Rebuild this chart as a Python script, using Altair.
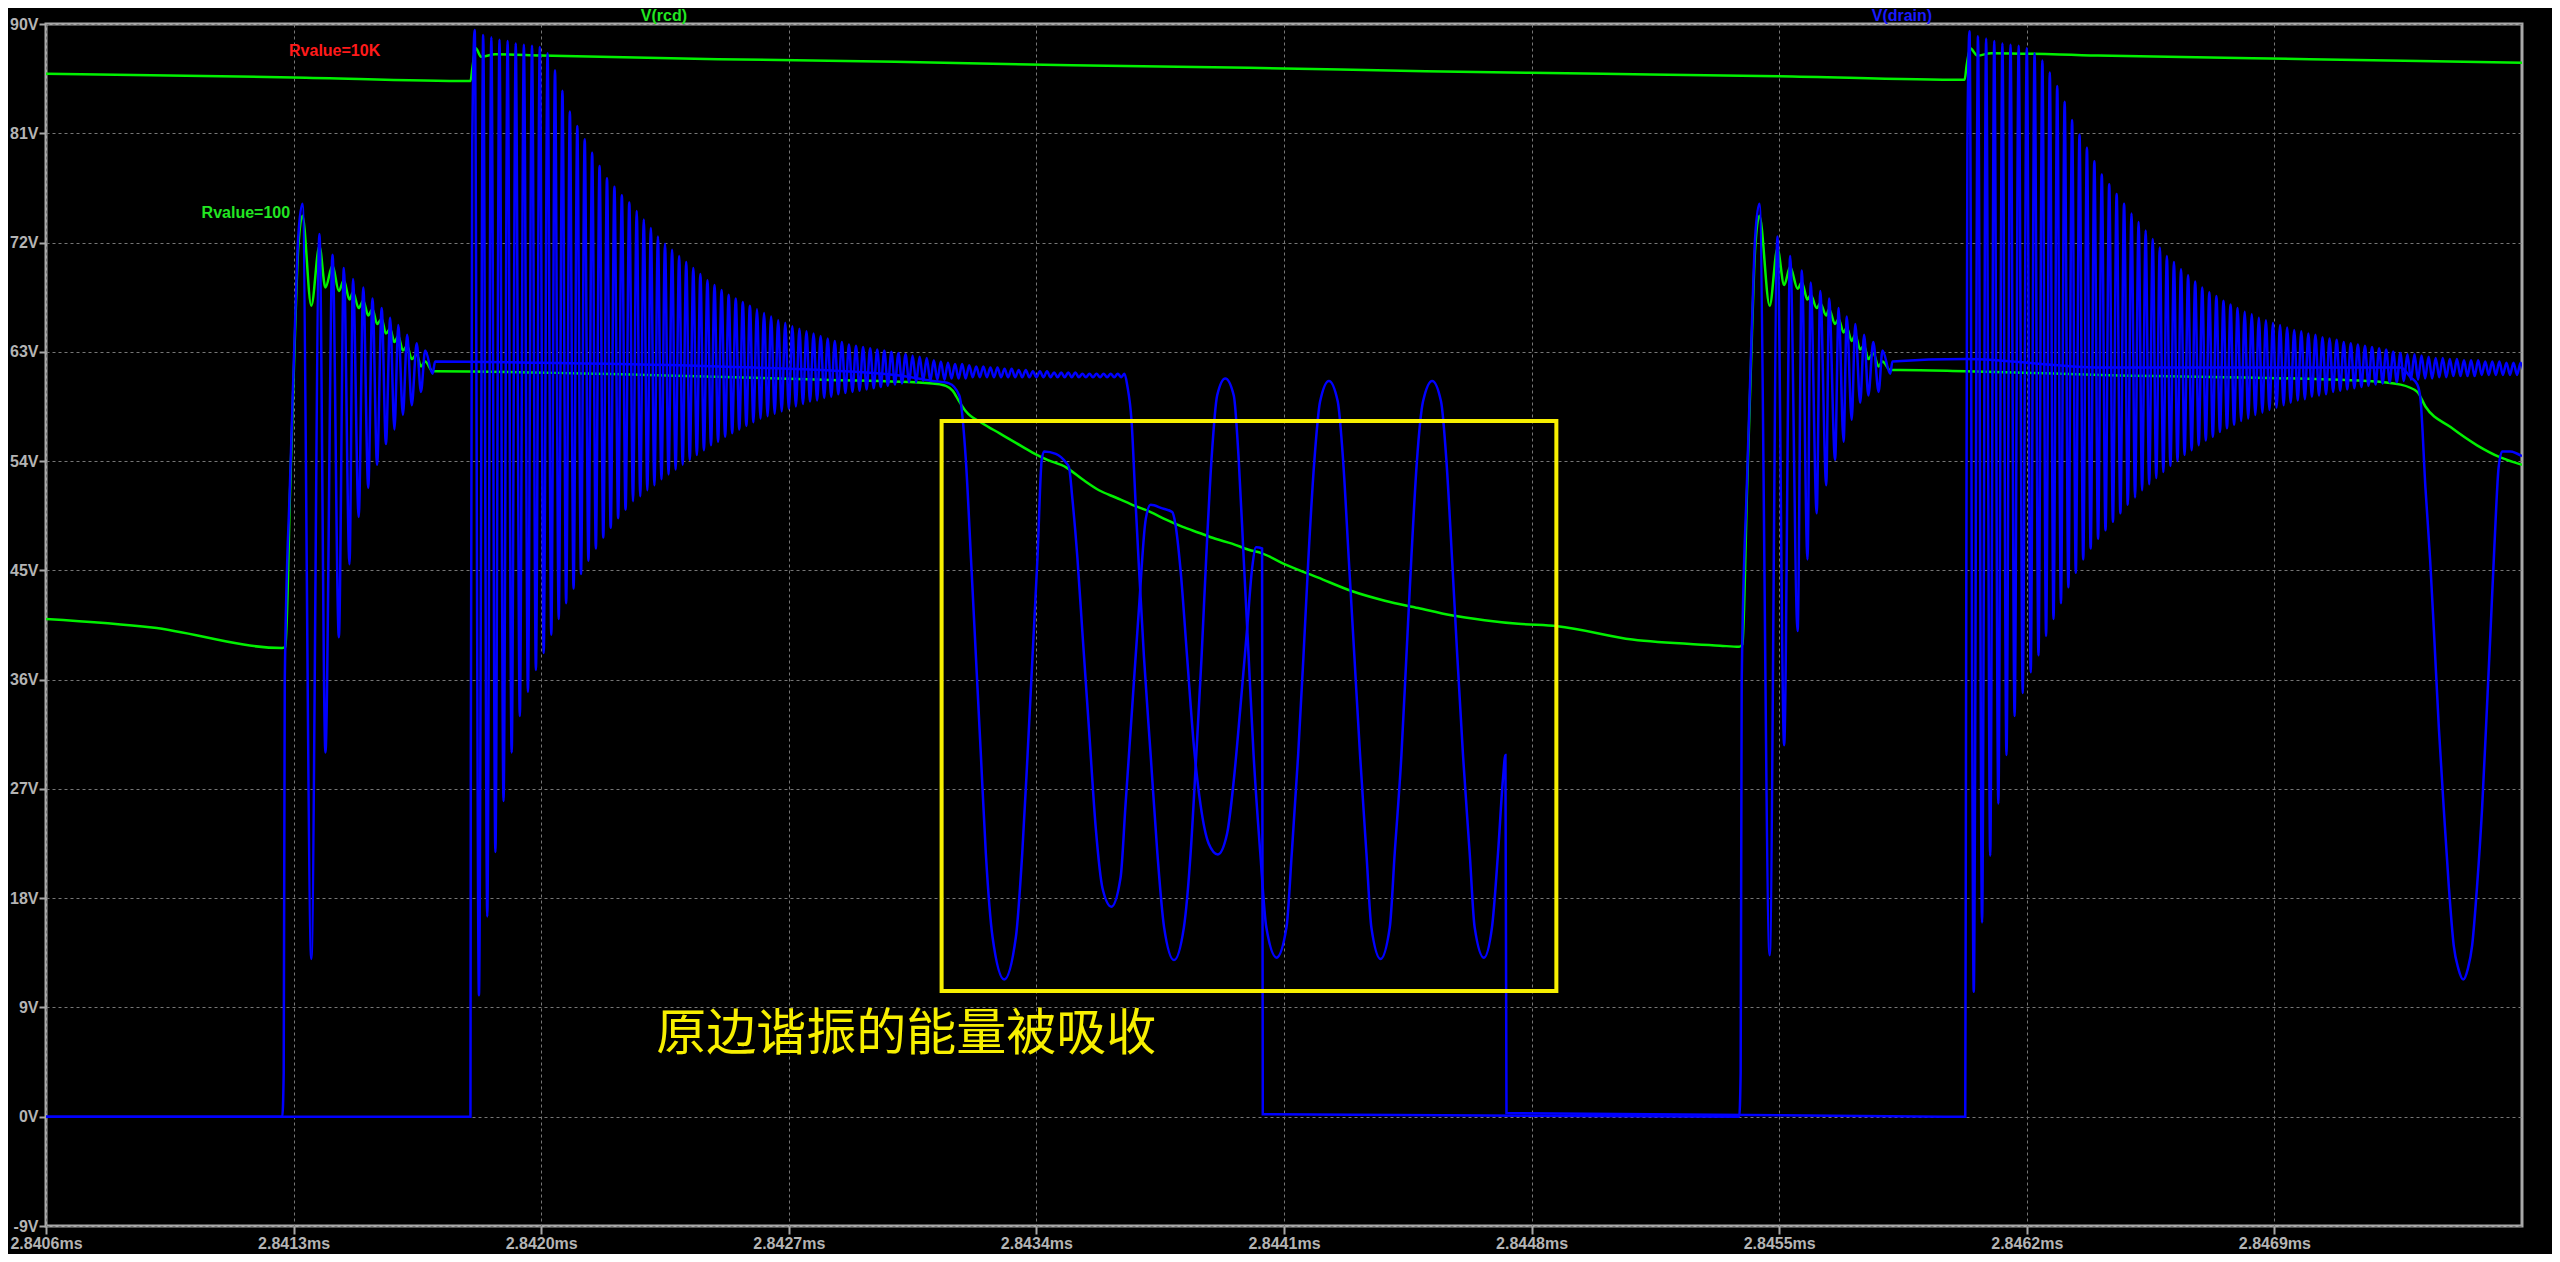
import altair as alt
import pandas as pd

# ---------------- axes (time in microseconds) ----------------
X_DOMAIN = [2840.6, 2847.6]
Y_DOMAIN = [-9, 90]
X_TICKS = [2840.6, 2841.3, 2842.0, 2842.7, 2843.4, 2844.1, 2844.8, 2845.5, 2846.2, 2846.9]
Y_TICKS = [-9, 0, 9, 18, 27, 36, 45, 54, 63, 72, 81, 90]

# ---------------- V(rcd), Rvalue=10K ----------------
G10K_T = [2840.6, 2841.3, 2841.80, 2841.806, 2841.815, 2841.83, 2841.87, 2842.0, 2842.5, 2843.0,
          2843.5, 2844.0, 2844.5, 2845.0, 2845.5, 2846.024, 2846.030, 2846.04, 2846.06, 2846.1,
          2846.4, 2847.0, 2847.6]
G10K_V = [85.9, 85.6, 85.3, 86.5, 88.0, 87.3, 87.5, 87.4, 87.1, 86.9,
          86.6, 86.4, 86.1, 85.9, 85.7, 85.4, 86.6, 88.0, 87.4, 87.6,
          87.4, 87.1, 86.8]

# ---------------- V(drain), Rvalue=100 : turn-off 1 ----------------
A1_T0 = 2841.268
A1_PRE_T = [2840.6, 2841.268, 2841.272, 2841.275, 2841.290, 2841.304, 2841.313]
A1_PRE_V = [0.0, 0.0, 3.6, 35.9, 52.4, 65.3, 72.4]
A1_PK_NS = [57, 105, 142, 174, 200, 229, 255, 281, 305, 328, 353, 380, 404]
A1_PK_V = [75.2, 72.7, 71.0, 69.9, 69.0, 68.3, 67.4, 66.6, 65.8, 65.2, 64.4, 63.7, 63.1]
A1_DIP_NS = [82, 122, 160, 190, 216, 243, 268, 293, 317, 341, 366, 392, 425]
A1_DIP_V = [13.0, 30.0, 39.5, 45.5, 49.4, 51.8, 53.7, 55.4, 56.6, 57.8, 58.6, 59.7, 61.2]
A1_POST_T = [2841.70, 2842.0, 2842.5, 2843.0, 2843.106, 2843.153, 2843.182, 2843.2005, 2843.215, 2843.229,
             2843.243, 2843.257, 2843.276, 2843.309, 2843.342, 2843.360, 2843.375, 2843.389, 2843.403, 2843.415,
             2843.422, 2843.455, 2843.483, 2843.492, 2843.502, 2843.516, 2843.530, 2843.549, 2843.568, 2843.587,
             2843.612, 2843.638, 2843.652, 2843.671, 2843.690, 2843.709, 2843.723, 2843.756, 2843.784, 2843.793,
             2843.807, 2843.826, 2843.845, 2843.864, 2843.887, 2843.913, 2843.939, 2843.958, 2843.977, 2843.996,
             2844.010, 2844.021, 2844.038, 2844.040, 2845.387]
A1_POST_V = [62.2, 62.1, 61.8, 61.1, 60.6, 60.4, 59.4, 54.1, 46.0, 37.9,
             29.8, 21.7, 14.8, 11.3, 14.8, 21.7, 29.8, 37.9, 46.0, 54.1,
             54.8, 54.6, 53.9, 53.5, 50.8, 46.0, 39.9, 31.8, 23.7, 18.8,
             17.3, 19.7, 25.7, 33.8, 41.9, 49.2, 50.4, 50.1, 49.8, 48.8,
             45.2, 37.9, 30.6, 25.7, 22.5, 21.6, 23.3, 27.7, 33.8, 40.3,
             45.2, 46.9, 46.8, 0.2, 0.0]

# ---------------- V(drain), Rvalue=100 : turn-off 2 ----------------
A2_T0 = 2845.387
A2_PRE_T = [2845.391, 2845.394, 2845.409, 2845.423, 2845.432]
A2_PRE_V = [3.6, 35.9, 52.4, 65.3, 72.4]
A2_PK_NS = [57, 108, 144, 177, 202, 229, 254, 281, 304, 328, 353, 379, 405]
A2_PK_V = [75.2, 72.5, 70.9, 69.7, 68.7, 68.0, 67.4, 66.6, 65.9, 65.3, 64.4, 63.8, 63.1]
A2_DIP_NS = [86, 127, 165, 193, 219, 246, 271, 295, 318, 342, 365, 394, 427]
A2_DIP_V = [13.3, 30.6, 40.0, 45.9, 49.7, 52.0, 54.1, 55.6, 57.4, 58.8, 59.4, 59.7, 61.2]
A2_POST_T = [2845.82, 2846.026, 2846.41, 2846.9, 2847.257, 2847.285, 2847.304, 2847.313, 2847.327, 2847.340,
             2847.351, 2847.365, 2847.379, 2847.393, 2847.407, 2847.420, 2847.434, 2847.447, 2847.459, 2847.473,
             2847.487, 2847.499, 2847.511, 2847.522, 2847.534, 2847.544, 2847.567, 2847.6]
A2_POST_V = [62.2, 62.4, 61.7, 61.7, 61.7, 60.9, 60.3, 59.1, 51.8, 46.0,
             40.0, 32.0, 25.3, 19.0, 14.1, 12.2, 11.3, 12.2, 14.1, 19.0,
             25.3, 32.5, 40.0, 47.0, 53.5, 54.8, 54.8, 54.4]

# ---------------- V(rcd), Rvalue=100 ----------------
G1_PRE_T = [2840.6, 2840.9, 2841.268, 2841.277, 2841.290, 2841.304, 2841.313]
G1_PRE_V = [41.0, 40.3, 38.6, 38.7, 51.5, 64.5, 71.5]
G1_PK_V = [74.2, 71.7, 70.1, 68.9, 67.9, 67.2, 66.5, 65.7, 64.9, 64.3, 63.5, 62.8, 62.2]
G1_DIP_V = [66.8, 68.3, 68.0, 67.3, 66.6, 66.0, 65.3, 64.5, 63.8, 63.1, 62.4, 61.8, 61.4]
G1_POST_T = [2841.70, 2842.3, 2842.8, 2843.106, 2843.144, 2843.163, 2843.182, 2843.2005, 2843.248, 2843.295,
             2843.342, 2843.389, 2843.431, 2843.483, 2843.530, 2843.577, 2843.624, 2843.671, 2843.723, 2843.765,
             2843.812, 2843.859, 2843.906, 2843.953, 2844.000, 2844.038, 2844.103, 2844.197, 2844.291, 2844.385,
             2844.479, 2844.573, 2844.667, 2844.762, 2844.873, 2845.085, 2845.333, 2845.387]
G1_POST_V = [61.4, 61.1, 60.7, 60.4, 60.2, 59.8, 58.9, 58.1, 57.1, 56.3,
             55.5, 54.7, 54.1, 53.5, 52.5, 51.6, 51.0, 50.4, 49.8, 49.2,
             48.6, 48.1, 47.6, 47.2, 46.7, 46.4, 45.5, 44.4, 43.3, 42.5,
             41.9, 41.3, 40.9, 40.6, 40.4, 39.3, 38.8, 38.7]
G2_PRE_T = [2845.396, 2845.409, 2845.423, 2845.432]
G2_PRE_V = [38.9, 51.5, 64.5, 71.5]
G2_PK_V = [74.2, 71.5, 70.0, 68.7, 67.7, 67.0, 66.5, 65.7, 65.0, 64.4, 63.5, 62.9, 62.2]
G2_DIP_V = [66.8, 68.5, 68.2, 67.3, 66.6, 66.0, 65.3, 64.6, 63.9, 63.2, 62.4, 61.8, 61.5]
G2_POST_T = [2845.842, 2846.026, 2846.41, 2847.163, 2847.257, 2847.304, 2847.327, 2847.398, 2847.473, 2847.539, 2847.6]
G2_POST_V = [61.5, 61.4, 61.1, 60.6, 60.3, 59.7, 58.5, 56.8, 55.3, 54.3, 53.7]

# ---------------- V(drain), Rvalue=10K ----------------
RING_NS = [12, 36, 59, 82, 105, 128, 151, 174, 196, 218,
           239, 260, 281, 302, 323, 344, 365, 386, 407, 428, 449, 470,
           490, 510, 530, 550, 570, 590, 610, 630, 650, 670,
           690, 710, 730, 750, 770, 790, 810, 830, 850, 870,
           890, 910, 930, 950, 970, 990, 1010, 1030, 1050, 1070,
           1090, 1110, 1130, 1150, 1170, 1190, 1210, 1230, 1250, 1270,
           1290, 1310, 1330, 1350, 1370, 1390, 1410, 1430, 1450, 1470,
           1490, 1510, 1530, 1550, 1570, 1590, 1610, 1630, 1650, 1670,
           1690, 1710, 1730, 1750, 1770, 1790, 1810, 1830]
B1_T0 = 2841.800
B1_PRE_T = [2840.6, 2841.800, 2841.801, 2841.805]
B1_PRE_V = [0.0, 0.0, 30.0, 80.0]
B1_PK = [89.5, 89.1, 88.9, 88.7, 88.6, 88.4, 88.3, 88.2, 88.1, 87.6,
         86.2, 84.5, 82.8, 81.6, 80.5, 79.4, 78.3, 77.3, 76.6, 75.9, 75.3, 74.6,
         73.9, 73.2, 72.5, 71.9, 71.4, 70.9, 70.4, 69.9, 69.4, 68.9,
         68.5, 68.1, 67.7, 67.4, 67.1, 66.8, 66.5, 66.2, 65.9, 65.6,
         65.4, 65.1, 64.9, 64.7, 64.5, 64.3, 64.1, 63.9, 63.8, 63.6,
         63.5, 63.4, 63.3, 63.2, 63.1, 63.0, 62.9, 62.8, 62.7, 62.6,
         62.5, 62.3, 62.2, 62.1, 62.0, 62.0, 61.9, 61.8, 61.8, 61.7,
         61.7, 61.6, 61.6, 61.5, 61.5, 61.4, 61.4, 61.4, 61.3, 61.3,
         61.3, 61.3, 61.2, 61.2, 61.2, 61.2, 61.2, 61.2]
B1_TR = [10.0, 16.5, 21.8, 26.0, 30.0, 33.0, 35.0, 36.8, 38.2, 39.7,
         41.0, 42.3, 43.5, 44.7, 45.8, 46.8, 47.7, 48.5, 49.3, 50.0, 50.7, 51.1,
         51.6, 52.0, 52.5, 52.9, 53.3, 53.7, 54.1, 54.5, 54.9, 55.3,
         55.6, 56.0, 56.3, 56.6, 56.9, 57.2, 57.5, 57.7, 57.9, 58.1,
         58.3, 58.5, 58.7, 58.9, 59.0, 59.2, 59.3, 59.5, 59.6, 59.7,
         59.8, 59.9, 60.0, 60.1, 60.2, 60.3, 60.4, 60.5, 60.5, 60.6,
         60.6, 60.7, 60.7, 60.8, 60.8, 60.8, 60.9, 60.9, 60.9, 60.9,
         60.9, 60.9, 60.9, 60.9, 60.9, 60.9, 60.9, 60.9, 60.9, 60.9,
         60.9, 60.9, 60.9, 60.9, 60.9, 60.9, 60.9, 60.9]
B1_POST_T = [2843.649, 2843.657, 2843.669, 2843.680, 2843.690, 2843.704, 2843.723, 2843.742, 2843.761, 2843.789,
             2843.817, 2843.836, 2843.852, 2843.867, 2843.880, 2843.895, 2843.911, 2843.934, 2843.958, 2843.972,
             2843.986, 2844.000, 2844.014, 2844.033, 2844.050, 2844.079, 2844.107, 2844.122, 2844.140, 2844.155,
             2844.169, 2844.186, 2844.202, 2844.227, 2844.252, 2844.267, 2844.283, 2844.299, 2844.315, 2844.333,
             2844.347, 2844.373, 2844.399, 2844.413, 2844.432, 2844.446, 2844.460, 2844.476, 2844.493, 2844.519,
             2844.544, 2844.559, 2844.575, 2844.590, 2844.606, 2844.625, 2844.639, 2844.665, 2844.688, 2844.705,
             2844.719, 2844.726, 2844.729, 2846.026]
B1_POST_V = [61.2, 60.2, 57.3, 50.8, 45.2, 37.9, 29.8, 21.7, 15.6, 12.9,
             15.6, 21.7, 29.8, 37.9, 46.0, 54.1, 59.4, 60.8, 59.4, 54.1,
             46.0, 37.9, 29.8, 21.7, 15.6, 13.1, 15.6, 21.7, 29.8, 37.9,
             46.0, 54.1, 58.9, 60.6, 58.9, 54.1, 46.0, 37.9, 29.8, 21.7,
             15.6, 13.0, 15.6, 21.7, 29.8, 37.9, 46.0, 54.1, 58.9, 60.6,
             58.9, 54.1, 46.0, 37.9, 29.8, 21.7, 15.6, 13.1, 15.6, 21.7,
             27.8, 29.8, 0.3, 0.0]
B2_T0 = 2846.026
B2_PRE_T = [2846.028, 2846.032]
B2_PRE_V = [30.0, 80.0]
B2_PK = [89.4, 89.0, 88.8, 88.6, 88.4, 88.3, 88.2, 88.0, 87.6, 87.0,
         86.0, 84.9, 83.6, 82.1, 80.9, 79.8, 78.7, 77.6, 76.8, 76.0, 75.2, 74.4,
         73.7, 73.0, 72.3, 71.6, 70.9, 70.4, 69.8, 69.3, 68.8, 68.3,
         67.9, 67.6, 67.2, 66.9, 66.6, 66.3, 66.1, 65.8, 65.6, 65.4,
         65.2, 65.0, 64.8, 64.7, 64.5, 64.4, 64.2, 64.1, 64.0, 63.8,
         63.7, 63.6, 63.5, 63.4, 63.3, 63.2, 63.0, 62.9, 62.8, 62.8,
         62.7, 62.6, 62.5, 62.5, 62.4, 62.4, 62.3, 62.3, 62.3, 62.2,
         62.2, 62.2, 62.1, 62.1, 62.1]
B2_TR = [10.3, 16.0, 21.5, 25.8, 29.8, 33.0, 34.9, 36.6, 38.0, 39.6,
         41.0, 42.3, 43.6, 44.8, 45.9, 46.8, 47.6, 48.3, 49.0, 49.7, 50.4, 51.0,
         51.6, 52.1, 52.6, 53.1, 53.6, 54.0, 54.5, 54.9, 55.3, 55.7,
         56.0, 56.4, 56.7, 57.0, 57.3, 57.5, 57.8, 58.0, 58.2, 58.4,
         58.6, 58.8, 59.0, 59.1, 59.3, 59.4, 59.5, 59.7, 59.8, 59.9,
         60.0, 60.1, 60.2, 60.3, 60.4, 60.5, 60.5, 60.6, 60.7, 60.7,
         60.8, 60.8, 60.9, 60.9, 61.0, 61.0, 61.0, 61.0, 61.1, 61.1,
         61.1, 61.1, 61.1, 61.1, 61.1]

# ---------------- annotations ----------------
BOX_T = [2843.132, 2844.870]
BOX_V = [10.35, 57.31]
NOTE_TEXT = "原边谐振的能量被吸收"
NOTE_POS = [2842.325, 6.7]
STEP_LABELS = ["Rvalue=10K", "Rvalue=100"]
STEP_T = [2841.416, 2841.165]
STEP_V = [87.76, 74.42]
STEP_COLORS = ["#ff1a1a", "#22e622"]
TRACE_NAMES = ["V(rcd)", "V(drain)"]
TRACE_T = [2842.347, 2845.847]
TRACE_COLORS = ["#22e622", "#1a1aff"]

GREEN = "#00f000"
BLUE = "#0000ff"


def pairs(ts, vs):
    return list(zip(ts, vs))


def ring(t0, pk_ns, pk_v, dip_ns, dip_v):
    out = []
    for a, b, c, d in zip(pk_ns, pk_v, dip_ns, dip_v):
        out.append((t0 + a / 1000.0, b))
        out.append((t0 + c / 1000.0, d))
    return out


def comb(t0, pk_ns, pk_v, tr_v):
    out = []
    n = min(len(pk_ns), len(pk_v), len(tr_v))
    for k in range(n):
        nxt = pk_ns[k + 1] if k + 1 < len(pk_ns) else pk_ns[k] + 20
        out.append((t0 + pk_ns[k] / 1000.0, pk_v[k]))
        out.append((t0 + (pk_ns[k] + nxt) / 2000.0, tr_v[k]))
    return out


def frame(*parts):
    pts = []
    for p in parts:
        pts.extend(p)
    return pd.DataFrame({"t": [a for a, _ in pts], "v": [b for _, b in pts], "i": list(range(len(pts)))})


g10k = frame(pairs(G10K_T, G10K_V))
g100 = frame(pairs(G1_PRE_T, G1_PRE_V), ring(A1_T0, A1_PK_NS, G1_PK_V, A1_DIP_NS, G1_DIP_V),
             pairs(G1_POST_T, G1_POST_V),
             pairs(G2_PRE_T, G2_PRE_V), ring(A2_T0, A2_PK_NS, G2_PK_V, A2_DIP_NS, G2_DIP_V),
             pairs(G2_POST_T, G2_POST_V))
d100 = frame(pairs(A1_PRE_T, A1_PRE_V), ring(A1_T0, A1_PK_NS, A1_PK_V, A1_DIP_NS, A1_DIP_V),
             pairs(A1_POST_T, A1_POST_V),
             pairs(A2_PRE_T, A2_PRE_V), ring(A2_T0, A2_PK_NS, A2_PK_V, A2_DIP_NS, A2_DIP_V),
             pairs(A2_POST_T, A2_POST_V))
d10k = frame(pairs(B1_PRE_T, B1_PRE_V), comb(B1_T0, RING_NS, B1_PK, B1_TR),
             pairs(B1_POST_T, B1_POST_V),
             pairs(B2_PRE_T, B2_PRE_V), comb(B2_T0, RING_NS, B2_PK, B2_TR))

AX = dict(grid=True, gridColor="#767676", gridDash=[3, 3], gridWidth=1, domain=False,
          ticks=True, tickColor="#a8a8a8", tickWidth=2,
          labelColor="#b4b4b4", labelFont="Liberation Sans", labelFontSize=16,
          labelFontWeight="bold")

X = alt.X("t:Q", title=None,
          scale=alt.Scale(domain=X_DOMAIN, nice=False, zero=False),
          axis=alt.Axis(values=X_TICKS, labelExpr="format(datum.value / 1000, '.4f') + 'ms'",
                        tickSize=8, labelPadding=1, labelFlush=False, labelOverlap=False, **AX))
Y = alt.Y("v:Q", title=None,
          scale=alt.Scale(domain=Y_DOMAIN, nice=False, zero=False),
          axis=alt.Axis(values=Y_TICKS, labelExpr="datum.value + 'V'", tickSize=7, labelPadding=1,
                        labelFlush=False, labelOverlap=False, **AX))


def trace(df, color):
    return alt.Chart(df).mark_line(color=color, strokeWidth=2.5, clip=True,
                                   interpolate="monotone").encode(x=X, y=Y, order="i:Q")


box = alt.Chart(pd.DataFrame({"t": [BOX_T[0]], "t2": [BOX_T[1]], "v": [BOX_V[0]], "v2": [BOX_V[1]]})).mark_rect(
    filled=False, stroke="#f7ef00", strokeWidth=4).encode(x=X, x2="t2:Q", y=Y, y2="v2:Q")

note = alt.Chart(pd.DataFrame({"t": [NOTE_POS[0]], "v": [NOTE_POS[1]], "txt": [NOTE_TEXT]})).mark_text(
    font="Noto Sans CJK SC", fontSize=50, color="#f7ef00", align="left", baseline="middle").encode(
    x=X, y=Y, text="txt:N")

steps = alt.Chart(pd.DataFrame({"t": STEP_T, "v": STEP_V, "txt": STEP_LABELS, "c": STEP_COLORS})).mark_text(
    font="Liberation Sans", fontSize=16, fontWeight="bold", align="center", baseline="middle").encode(
    x=X, y=Y, text="txt:N", color=alt.Color("c:N", scale=None))

names = alt.Chart(pd.DataFrame({"t": TRACE_T, "txt": TRACE_NAMES, "c": TRACE_COLORS})).mark_text(
    font="Liberation Sans", fontSize=16, fontWeight="bold", align="center", baseline="middle").encode(
    x=X, y=alt.value(-8.5), text="txt:N", color=alt.Color("c:N", scale=None))

chart = alt.layer(
    trace(g10k, GREEN), trace(g100, GREEN), trace(d100, BLUE), trace(d10k, BLUE),
    box, note, steps, names
).properties(
    width=2476, height=1202,
    padding={"left": 38, "top": 16, "right": 30, "bottom": 28},
    autosize=alt.AutoSizeParams(type="none"),
    background="#000000",
).configure_view(stroke="#a8a8a8", strokeWidth=3)

chart.save("out.html", embed_options={"renderer": "svg", "actions": False})
